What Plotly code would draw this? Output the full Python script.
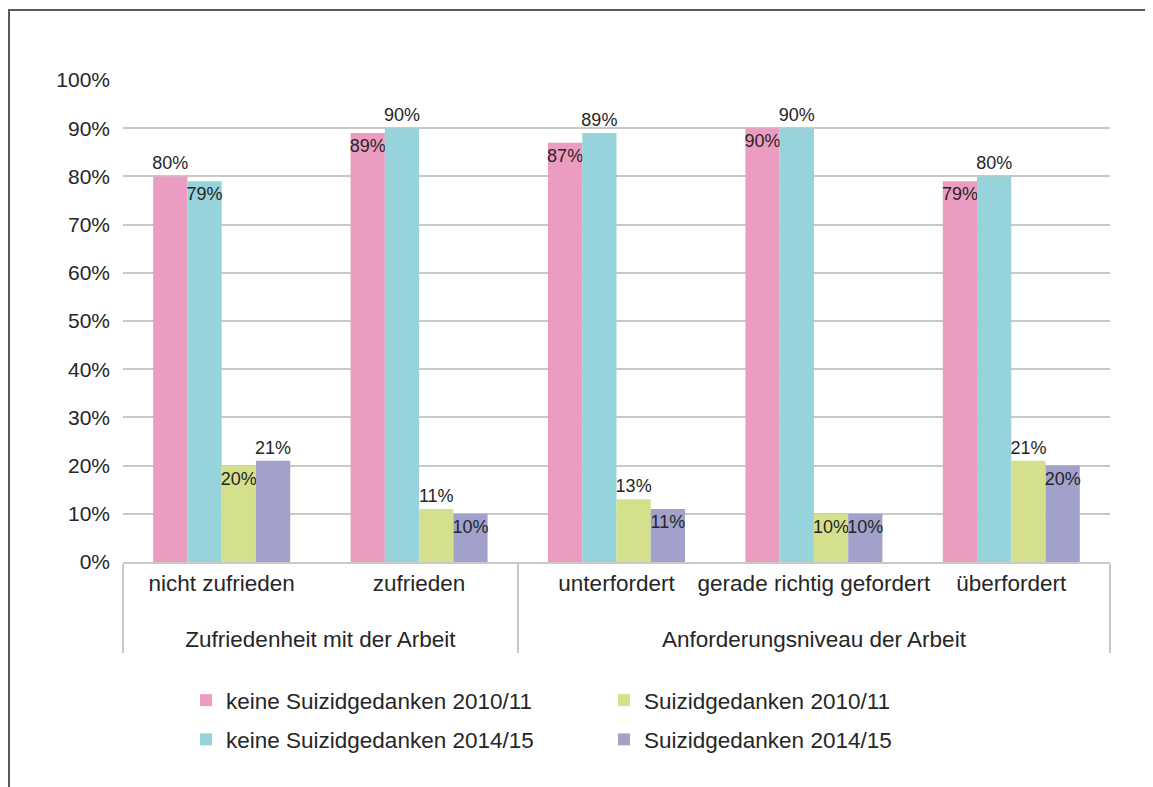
import plotly.graph_objects as go

groups = ["Zufriedenheit mit der Arbeit", "Zufriedenheit mit der Arbeit",
          "Anforderungsniveau der Arbeit", "Anforderungsniveau der Arbeit",
          "Anforderungsniveau der Arbeit"]
categories = ["nicht zufrieden", "zufrieden", "unterfordert",
              "gerade richtig gefordert", "überfordert"]

keine_2010 = [80, 89, 87, 90, 79]
keine_2014 = [79, 90, 89, 90, 80]
suizid_2010 = [20, 11, 13, 10, 21]
suizid_2014 = [21, 10, 11, 10, 20]

series_names = ["keine Suizidgedanken 2010/11", "keine Suizidgedanken 2014/15",
                "Suizidgedanken 2010/11", "Suizidgedanken 2014/15"]
series_values = [keine_2010, keine_2014, suizid_2010, suizid_2014]
colors = ["#EC9CC1", "#96D3DA", "#D4E08C", "#A1A1CB"]
# label placement as in the reference (outside above or inside the bar top)
label_pos = [
    ["outside", "inside", "inside", "inside", "inside"],
    ["inside", "outside", "outside", "outside", "outside"],
    ["inside", "outside", "outside", "inside", "outside"],
    ["outside", "inside", "inside", "inside", "inside"],
]
legend_ids = ["legend", "legend", "legend2", "legend2"]

FONT = "Liberation Sans, Arial, sans-serif"
TXT = "#262626"

# group labels pushed one line down (as in the reference)
group_labels = ["<br>" + g for g in groups]

fig = go.Figure()
for name, vals, col, pos, lg in zip(series_names, series_values, colors, label_pos, legend_ids):
    fig.add_trace(go.Bar(
        x=[group_labels, categories], y=vals, name=name,
        marker=dict(color=col, line=dict(width=0)),
        text=[f"{v}%" for v in vals], textposition=pos, textangle=0,
        insidetextanchor="end", constraintext="none",
        textfont=dict(family=FONT, size=18, color=TXT),
        insidetextfont=dict(family=FONT, size=18, color=TXT),
        outsidetextfont=dict(family=FONT, size=18, color=TXT),
        cliponaxis=False, legend=lg,
    ))

# page is offset by the 8px body margin; plot area targeted at x 123..1110, y 80..562
fig.update_layout(
    width=1153, height=787,
    margin=dict(l=115, r=51, t=72, b=233, autoexpand=False),
    paper_bgcolor="white", plot_bgcolor="white",
    barmode="group", bargap=0.306, bargroupgap=0,
    font=dict(family=FONT, size=21, color=TXT),
    uniformtext=dict(minsize=18, mode="show"),
    legend=dict(x=(186 - 123) / 987, xanchor="left", y=1 - 671 / 787, yanchor="top",
                yref="container", orientation="v", tracegroupgap=7,
                font=dict(family=FONT, size=22.5, color=TXT),
                bgcolor="rgba(0,0,0,0)"),
    legend2=dict(x=(604 - 123) / 987, xanchor="left", y=1 - 671 / 787, yanchor="top",
                 yref="container", orientation="v", tracegroupgap=7,
                 font=dict(family=FONT, size=22.5, color=TXT),
                 bgcolor="rgba(0,0,0,0)"),
    shapes=[dict(type="rect", xref="paper", yref="paper",
                 x0=(9 - 123) / 987, x1=1.2, y0=-0.7, y1=(562 - 10) / 482,
                 line=dict(color="#595959", width=2), fillcolor="rgba(0,0,0,0)",
                 layer="below")],
)
for i, t in enumerate(fig.data):
    t.legendgroup = f"g{i}"

fig.update_yaxes(range=[0, 100], tickvals=[0, 10, 20, 30, 40, 50, 60, 70, 80, 90, 100],
                 ticktext=[f"{v}%" for v in range(0, 101, 10)],
                 showgrid=True, gridcolor="#C9C9C9", gridwidth=1.5,
                 zeroline=False, showline=False, ticks="", automargin=False,
                 ticklabelstandoff=12,
                 tickfont=dict(family=FONT, size=21, color=TXT))
fig.update_xaxes(type="multicategory", showline=True, linecolor="#C9C9C9", linewidth=1.5,
                 showdividers=True, dividercolor="#C9C9C9", dividerwidth=1.5,
                 ticks="", tickangle=0, automargin=False,
                 tickfont=dict(family=FONT, size=22.5, color=TXT))

fig.write_html("out.html")
